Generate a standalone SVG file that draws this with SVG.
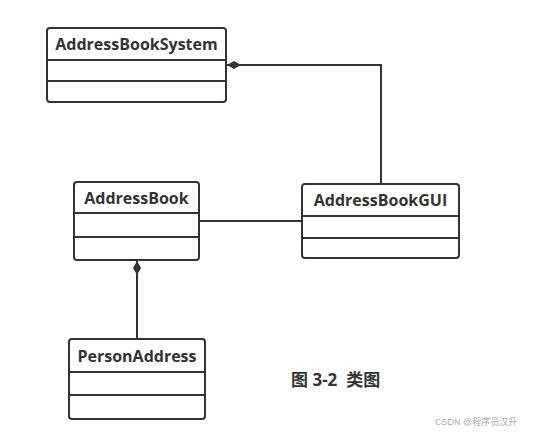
<svg xmlns="http://www.w3.org/2000/svg" width="536" height="435" viewBox="0 0 536 435">
<style>
.box{fill:#fff;stroke:#333;stroke-width:2}
.div{stroke:#333;stroke-width:2}
.t{font-family:"Open Sans","Noto Sans",sans-serif;font-weight:bold;font-size:16px;fill:#333;text-anchor:middle}
.c{fill:none;stroke:#333;stroke-width:2}
.cap{font-family:"Open Sans","Noto Sans CJK SC",sans-serif;font-weight:bold;font-size:17px;fill:#333}
.wm{font-family:"Liberation Sans","Noto Sans CJK SC",sans-serif;font-size:9px;fill:#aaa}
</style>
<defs>
<marker id="dia" markerWidth="14" markerHeight="8" refX="14" refY="4" orient="auto" markerUnits="userSpaceOnUse">
<path d="M0,4 L7,0 L14,4 L7,8 Z" fill="#333"/>
</marker>
</defs>
<g id="connectors">
<path class="c" d="M381,184 V65 H227" marker-end="url(#dia)"/>
<line class="c" x1="199" y1="221" x2="302" y2="221"/>
<path class="c" d="M137,339 V261" marker-end="url(#dia)"/>
</g>
<g id="AddressBookSystem">
<rect class="box" x="47" y="28" width="179" height="74" rx="3"/>
<line class="div" x1="47" y1="60" x2="226" y2="60"/>
<line class="div" x1="47" y1="81" x2="226" y2="81"/>
<text class="t" x="136.5" y="50">AddressBookSystem</text>
</g>
<g id="AddressBook">
<rect class="box" x="74" y="182" width="125" height="78" rx="3"/>
<line class="div" x1="74" y1="213" x2="199" y2="213"/>
<line class="div" x1="74" y1="237" x2="199" y2="237"/>
<text class="t" x="136.5" y="204">AddressBook</text>
</g>
<g id="AddressBookGUI">
<rect class="box" x="302" y="184" width="157" height="74" rx="3"/>
<line class="div" x1="302" y1="216" x2="459" y2="216"/>
<line class="div" x1="302" y1="238" x2="459" y2="238"/>
<text class="t" x="380.5" y="206">AddressBookGUI</text>
</g>
<g id="PersonAddress">
<rect class="box" x="69" y="339" width="136" height="80" rx="3"/>
<line class="div" x1="69" y1="372" x2="205" y2="372"/>
<line class="div" x1="69" y1="395" x2="205" y2="395"/>
<text class="t" x="137" y="362">PersonAddress</text>
</g>
<text class="cap" x="291" y="386" xml:space="preserve">图 3-2  类图</text>
<text class="wm" x="435" y="425">CSDN @程序员汉升</text>
</svg>
